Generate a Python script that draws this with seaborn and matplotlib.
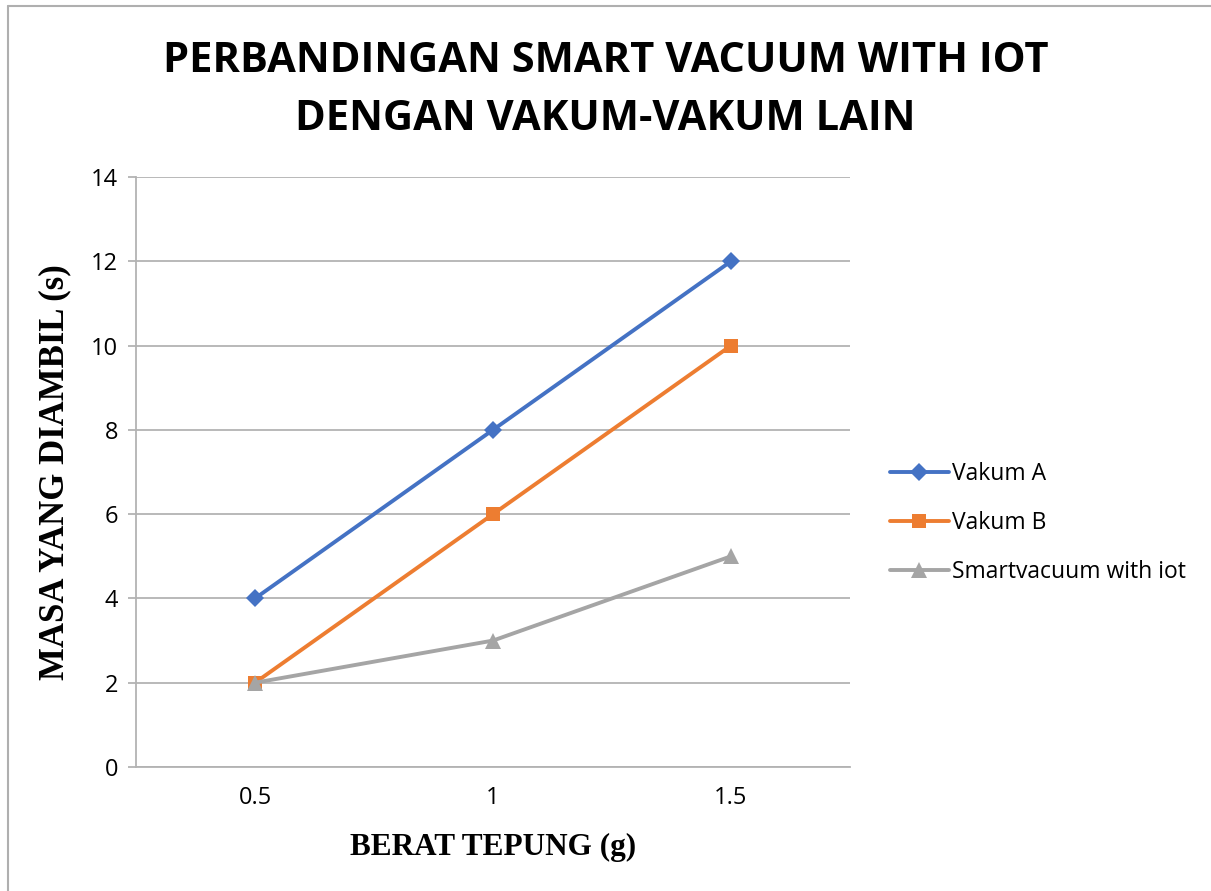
import matplotlib
matplotlib.use("Agg")
import matplotlib.pyplot as plt
import seaborn as sns
import pandas as pd
from matplotlib.lines import Line2D

# data
berat = ["0.5", "1", "1.5"]
vakum_a = [4, 8, 12]
vakum_b = [2, 6, 10]
smart = [2, 3, 5]
series_names = ["Vakum A", "Vakum B", "Smartvacuum with iot"]
y_ticks = [0, 2, 4, 6, 8, 10, 12, 14]

colors = {"Vakum A": "#4472C4", "Vakum B": "#ED7D31", "Smartvacuum with iot": "#A5A5A5"}
markers = {"Vakum A": "D", "Vakum B": "s", "Smartvacuum with iot": "^"}
msizes = {"Vakum A": 9, "Vakum B": 10, "Smartvacuum with iot": 11}

df = pd.DataFrame({
    "berat": berat * 3,
    "masa": vakum_a + vakum_b + smart,
    "seri": [n for n in series_names for _ in berat],
})

sns.set_style("white")
plt.rcParams["font.family"] = ["Open Sans", "DejaVu Sans"]
plt.rcParams["text.color"] = "black"
plt.rcParams["axes.labelcolor"] = "black"
plt.rcParams["xtick.color"] = "black"
plt.rcParams["ytick.color"] = "black"

fig = plt.figure(figsize=(12.11, 8.91), dpi=100)
ax = fig.add_axes([136 / 1211, 1 - 767 / 891, 714 / 1211, 590 / 891])

for name in series_names:
    sub = df[df["seri"] == name]
    sns.lineplot(data=sub, x="berat", y="masa", ax=ax, color=colors[name],
                 marker=markers[name], markersize=msizes[name],
                 markeredgewidth=0, linewidth=2.8, sort=False, legend=False)

ax.set_xlim(-0.5, 2.5)
ax.set_ylim(0, 14)
ax.set_yticks(y_ticks)
ax.set_yticklabels([str(v) for v in y_ticks])
ax.tick_params(axis="x", labelsize=17, length=0, pad=14, labelcolor="black")
ax.tick_params(axis="y", labelsize=17, length=6, width=1.3, color="#B3B3B3", left=True,
               pad=7, labelcolor="black")
ax.yaxis.grid(True, color="#B3B3B3", linewidth=1.3)
ax.set_axisbelow(True)
for side in ["top", "right"]:
    ax.spines[side].set_visible(False)
for side in ["left", "bottom"]:
    ax.spines[side].set_color("#B3B3B3")
    ax.spines[side].set_linewidth(1.3)

ax.set_xlabel("BERAT TEPUNG (g)", family="Liberation Serif", fontweight="bold",
              fontsize=22.5, labelpad=16, color="black")
ax.set_ylabel("MASA YANG DIAMBIL (s)", family="Liberation Serif", fontweight="bold",
              fontsize=25, labelpad=14, color="black")

fig.text(0.5, 1 - 62 / 891, "PERBANDINGAN SMART VACUUM WITH IOT", ha="center", va="center",
         fontsize=30, fontweight="bold", color="black")
fig.text(0.5, 1 - 119 / 891, "DENGAN VAKUM-VAKUM LAIN", ha="center", va="center",
         fontsize=30, fontweight="bold", color="black")

handles = [Line2D([], [], color=colors[n], marker=markers[n], markersize=msizes[n],
                  markeredgewidth=0, linewidth=2.8) for n in series_names]
fig.legend(handles, series_names, loc="center left", bbox_to_anchor=(869 / 1211, 1 - 523 / 891),
           frameon=False, fontsize=16.5, handlelength=2.6, handletextpad=0.1,
           labelspacing=1.1)

# chart frame on top and left edges
fig.add_artist(Line2D([8 / 1211, 1], [1 - 6 / 891, 1 - 6 / 891], color="#AFAFAF", linewidth=1.5))
fig.add_artist(Line2D([8 / 1211, 8 / 1211], [0, 1 - 6 / 891], color="#AFAFAF", linewidth=1.5))

fig.savefig("out.png", dpi=100)
